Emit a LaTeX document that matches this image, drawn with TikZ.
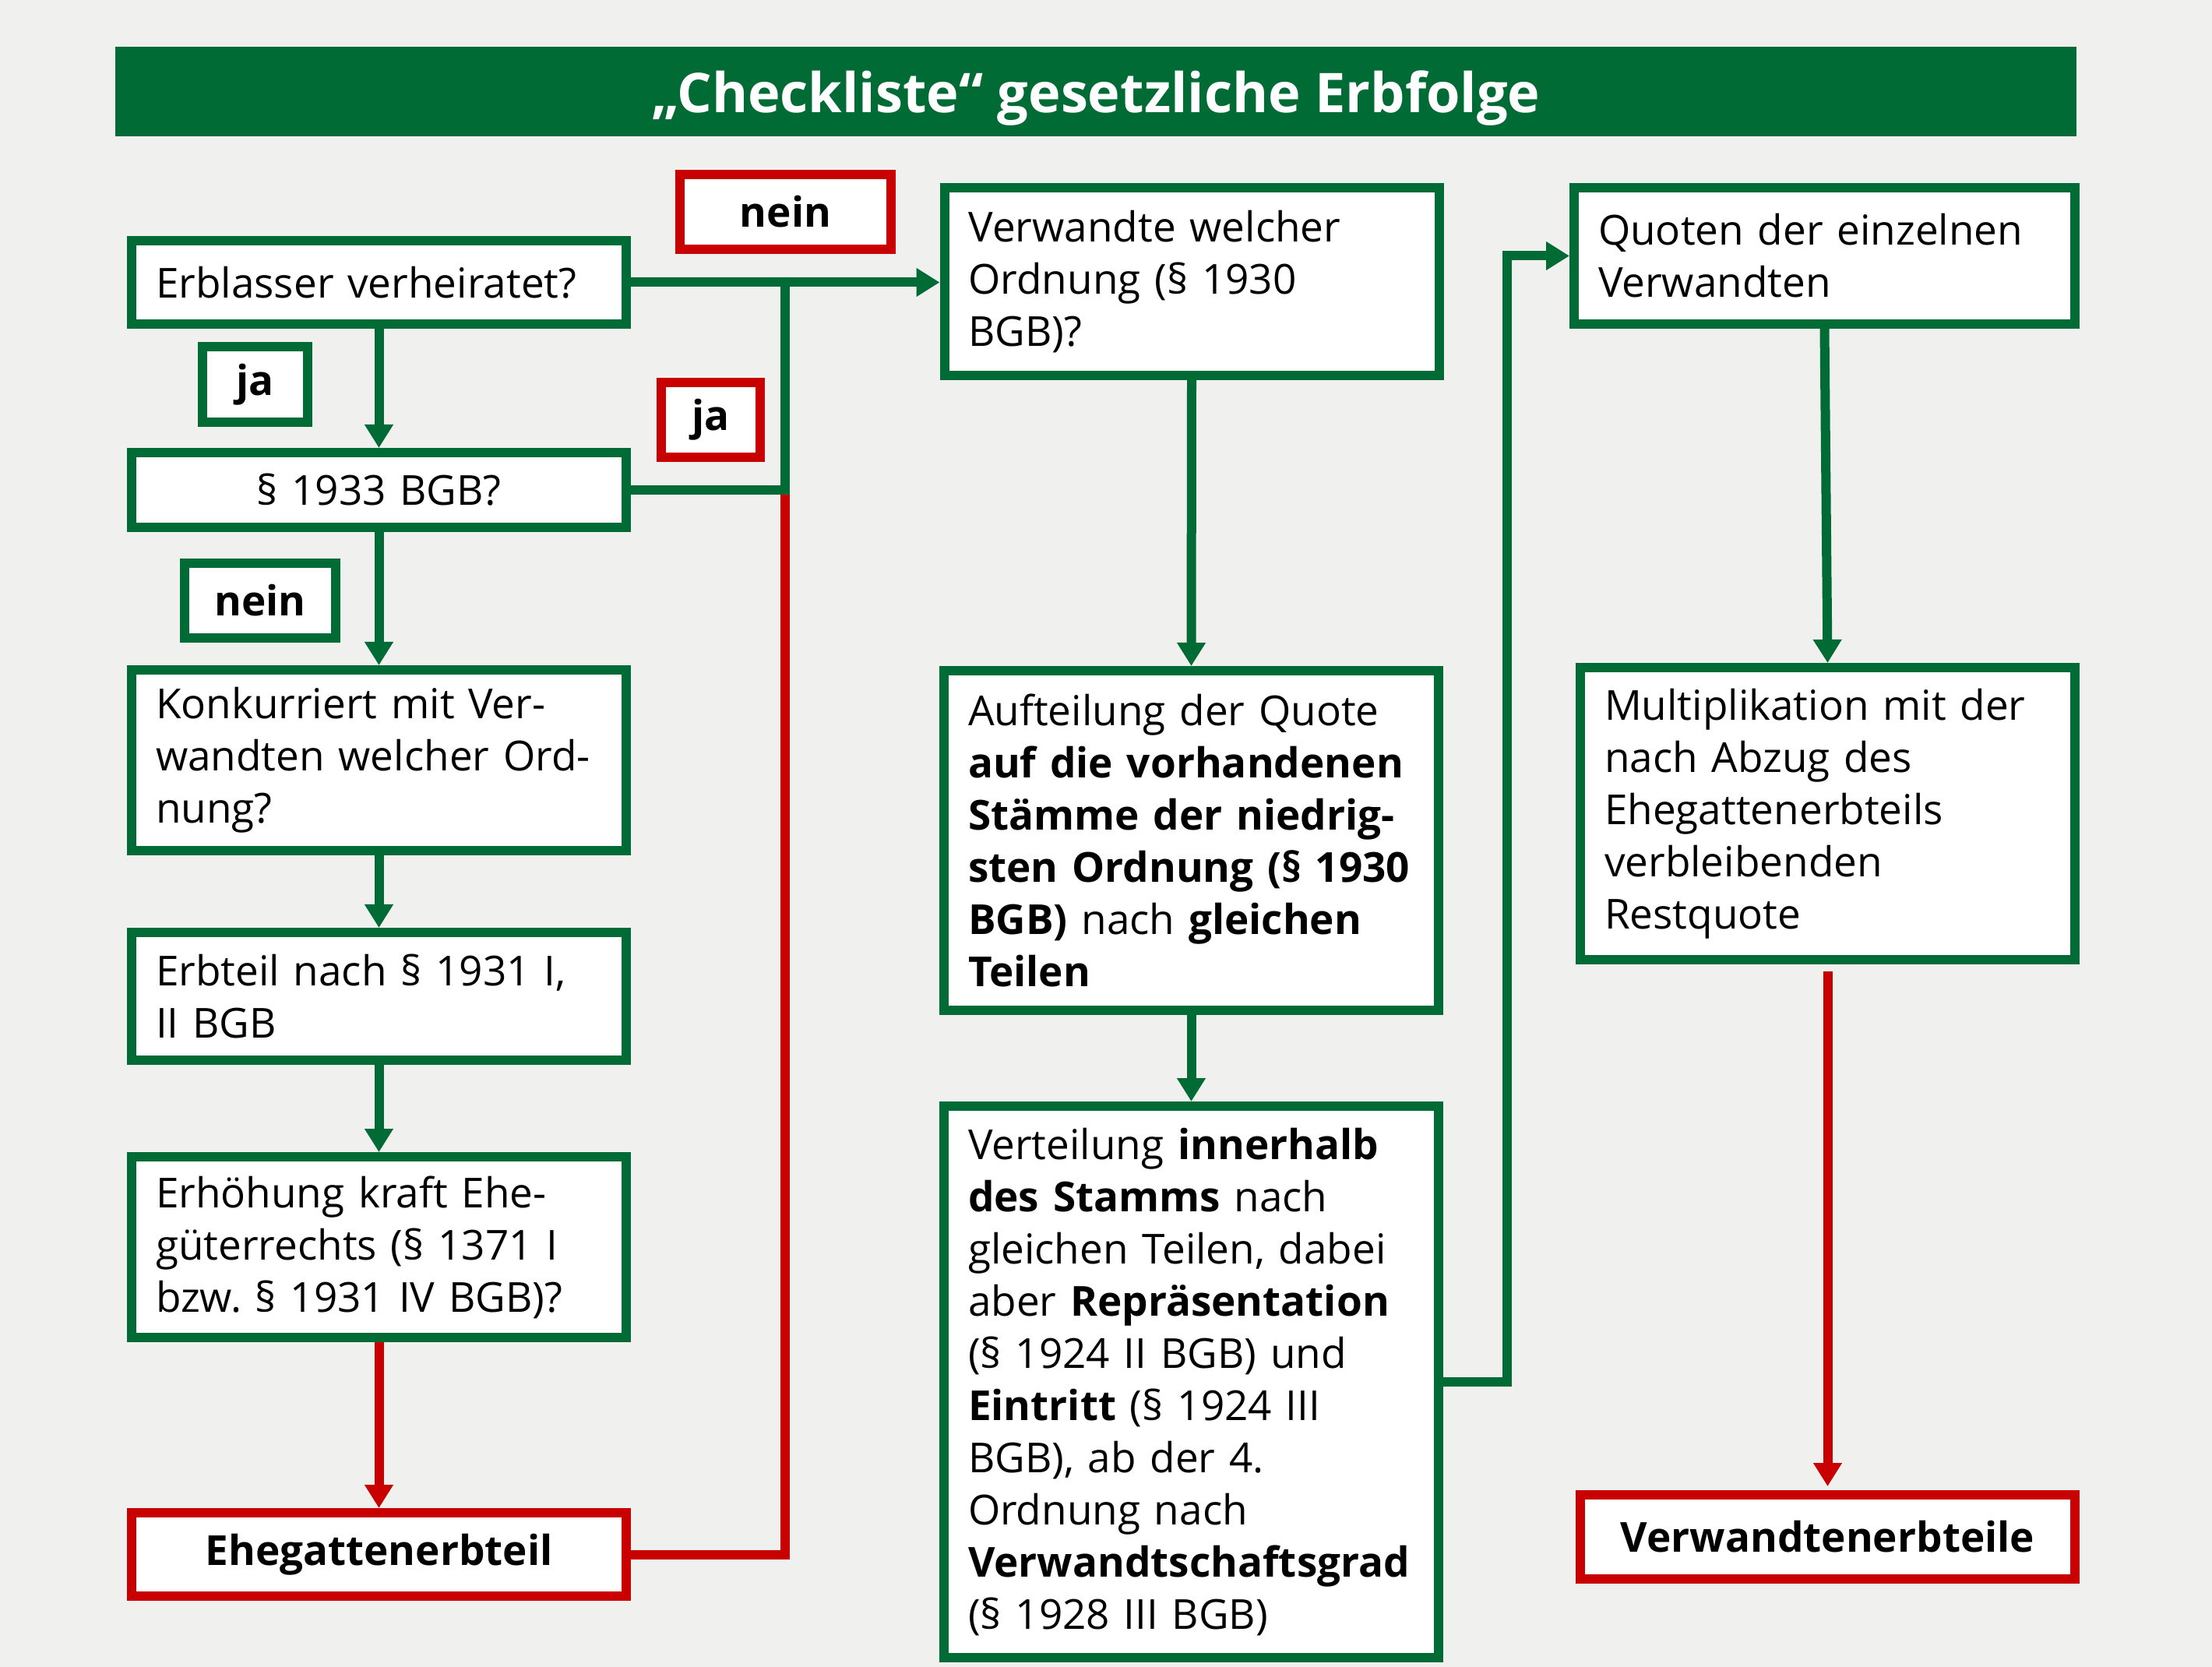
\documentclass[tikz,border=0pt]{standalone}
\usepackage{fontspec}
\setmainfont{Open Sans}
\usetikzlibrary{arrows.meta}
\definecolor{CheckGreen}{RGB}{0,107,52}
\definecolor{CheckRed}{RGB}{200,0,0}
\definecolor{PaperGray}{RGB}{240,241,238}
\frenchspacing

\begin{document}
\begin{tikzpicture}[x=1cm, y=-1cm,
	every node/.style={font=\fontsize{15.1pt}{19.06pt}\selectfont},
	box/.style={draw=CheckGreen, line width=0.12cm, fill=white, inner xsep=0.31cm,
		inner ysep=0pt, text width=5.73cm, align=left},
	endbox/.style={box, draw=CheckRed, align=center,
		font=\fontsize{15.1pt}{19.06pt}\selectfont\bfseries},
	tag/.style={draw=#1, line width=0.12cm, fill=white, inner sep=0pt,
		font=\fontsize{15.1pt}{19.06pt}\selectfont\bfseries},
	flow/.style={CheckGreen, line width=0.12cm, -{Triangle[length=0.3cm, width=0.35cm]}},
	flowred/.style={flow, CheckRed},
	bus/.style={CheckGreen, line width=0.12cm},
	busred/.style={bus, CheckRed}]
	\fill[PaperGray] (0,0) rectangle (28.4,21.4);
	\node[fill=CheckGreen, text=white, minimum width=25.18cm, minimum height=1.15cm, inner sep=0pt,
		text height=0.6cm, text depth=0.05cm,
		font=\fontsize{20pt}{24pt}\selectfont\bfseries] (title) at (14.07,1.175)
		{„Checkliste“ gesetzliche Erbfolge};
	% linke Spalte: Ehegatte
	\node[box, minimum height=1.07cm] (verh) at (4.865,3.625) {Erblasser verheiratet?};
	\node[box, align=center, minimum height=0.96cm] (bgb) at (4.865,6.29) {§ 1933 BGB?};
	\node[box, minimum height=2.32cm] (konk) at (4.865,9.76)
		{Konkurriert mit Ver-\\wandten welcher Ord-\\nung?};
	\node[box, minimum height=1.64cm] (erbteil) at (4.865,12.79) {Erbteil nach § 1931 I,\\II BGB};
	\node[box, minimum height=2.32cm] (erhoeh) at (4.865,16.01)
		{Erhöhung kraft Ehe-\\güterrechts (§ 1371 I\\bzw. § 1931 IV BGB)?};
	\node[endbox, minimum height=1.07cm] (ehe) at (4.865,19.955) {Ehegattenerbteil};
	\node[tag=CheckGreen, minimum width=1.35cm, minimum height=0.97cm] (ja1) at (3.275,4.935) {ja};
	\node[tag=CheckGreen, minimum width=1.94cm, minimum height=0.96cm] (nein1) at (3.34,7.71) {nein};
	\node[tag=CheckRed, minimum width=2.71cm, minimum height=0.96cm] (nein2) at (10.085,2.72) {nein};
	\node[tag=CheckRed, minimum width=1.27cm, minimum height=0.96cm] (ja2) at (9.125,5.39) {ja};
	% mittlere Spalte: Verwandte
	\node[box, minimum height=2.41cm] (ordn) at (15.30,3.615)
		{Verwandte welcher\\Ordnung (§ 1930\\BGB)?};
	\node[box, minimum height=4.36cm] (aufteil) at (15.295,10.79)
		{Aufteilung der Quote\\
		\textbf{auf die vorhandenen}\\
		\textbf{Stämme der niedrig-}\\
		\textbf{sten Ordnung (§ 1930}\\
		\textbf{BGB)} nach \textbf{gleichen}\\
		\textbf{Teilen}};
	\node[box, minimum height=7.08cm] (verteil) at (15.295,17.74)
		{Verteilung \textbf{innerhalb}\\
		\textbf{des Stamms} nach\\
		gleichen Teilen, dabei\\
		aber \textbf{Repräsentation}\\
		(§ 1924 II BGB) und\\
		\textbf{Eintritt} (§ 1924 III\\
		BGB), ab der 4.\\
		Ordnung nach\\
		\textbf{Verwandtschaftsgrad}\\
		(§ 1928 III BGB)};
	% rechte Spalte: Quoten
	\node[box, text width=5.81cm, minimum height=1.75cm] (quoten) at (23.425,3.285)
		{Quoten der einzelnen\\Verwandten};
	\node[box, minimum height=3.75cm] (multi) at (23.465,10.445)
		{Multiplikation mit der\\nach Abzug des\\Ehegattenerbteils\\verbleibenden\\Restquote};
	\node[endbox, minimum height=1.08cm] (verw) at (23.465,19.73) {Verwandtenerbteile};
	% Verbindungen
	\coordinate (knot) at (10.08,6.29);
	\draw[busred] (ehe.east) -| (knot);
	\draw[bus] (bgb.east) -- (knot) -- (knot |- verh.east);
	\draw[flow] (verh.east) -- (verh.east -| ordn.west);
	\draw[flow] (verh.south) -- (bgb.north);
	\draw[flow] (bgb.south) -- (konk.north);
	\draw[flow] (konk.south) -- (erbteil.north);
	\draw[flow] (erbteil.south) -- (erhoeh.north);
	\draw[flowred] (erhoeh.south) -- (ehe.north);
	\draw[flow] (ordn.south) -- (aufteil.north);
	\draw[flow] (aufteil.south) -- (verteil.north);
	\draw[flow] (verteil.east) -- ++(0.82,0) |- (quoten.west);
	\draw[flow] (quoten.south) -- (multi.north);
	\draw[flowred, shorten <=0.09cm, shorten >=0.05cm] (multi.south) -- (verw.north);
\end{tikzpicture}
\end{document}
